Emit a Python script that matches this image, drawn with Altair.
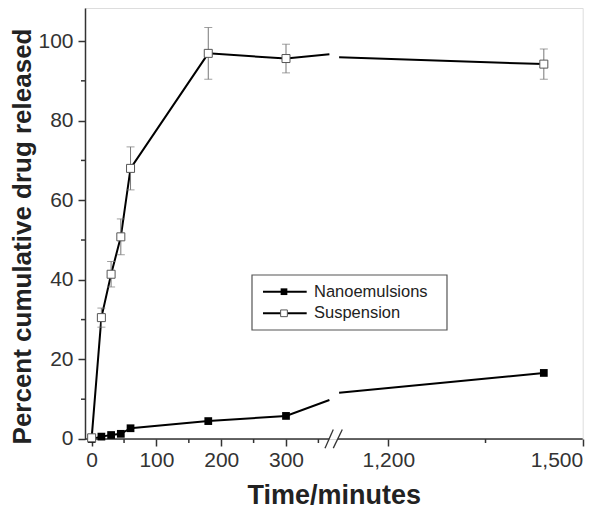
import altair as alt
import pandas as pd

# ---- data ----
time_min = [0, 15, 30, 45, 60, 180, 300, 1440]
suspension = [0.3, 30.5, 41.4, 50.8, 68.0, 96.9, 95.6, 94.2]
suspension_err = [0, 2.4, 3.2, 4.5, 5.4, 6.5, 3.6, 3.8]
nanoemulsions = [0, 0.6, 1.0, 1.3, 2.7, 4.5, 5.8, 16.6]

# where the drawn lines stop / restart at the axis break
edge_times = [367, 1124]
suspension_edge = [96.7, 95.9]
nano_edge = [9.8, 11.6]

series_names = ["Nanoemulsions", "Suspension"]
x_tick_minutes = [0, 100, 200, 300, 1200, 1500]
x_minor_minutes = [50, 150, 250, 350, 1350]
y_ticks = [0, 20, 40, 60, 80, 100]
y_minor = [10, 30, 50, 70, 90]

# ---- broken axis mapping ----
BREAK_LO = 372        # last minute shown on left part
AXIS_OFFSET = 742     # minutes removed by the break
GAP = [366.4, 380.3]  # display units of the axis-line gap
X_DOMAIN = [-10.3, 758]
Y_DOMAIN = [0, 108.3]


def disp(t):
    return t if t <= BREAK_LO else t - AXIS_OFFSET


FONT = "Liberation Sans, Arial, sans-serif"
W, H = 497.7, 431

rows = []
for name, vals, edges in [("Suspension", suspension, suspension_edge),
                          ("Nanoemulsions", nanoemulsions, nano_edge)]:
    for t, v in zip(time_min, vals):
        seg = "L" if t <= BREAK_LO else "R"
        rows.append({"series": name, "key": name + seg, "x": disp(t), "v": v, "o": t})
    rows.append({"series": name, "key": name + "L", "x": disp(edge_times[0]), "v": edges[0], "o": edge_times[0]})
    rows.append({"series": name, "key": name + "R", "x": disp(edge_times[1]), "v": edges[1], "o": edge_times[1]})
lines_df = pd.DataFrame(rows)

pts_df = pd.DataFrame({
    "x": [disp(t) for t in time_min],
    "susp": suspension,
    "lo": [s - e for s, e in zip(suspension, suspension_err)],
    "hi": [s + e for s, e in zip(suspension, suspension_err)],
    "err": suspension_err,
    "nano": nanoemulsions,
})
err_df = pts_df[pts_df["err"] > 0]

xs = alt.Scale(domain=X_DOMAIN, nice=False, zero=False)
ys = alt.Scale(domain=Y_DOMAIN, nice=False, zero=False)

x_axis = alt.Axis(
    values=[disp(t) for t in x_tick_minutes],
    labelExpr=f"datum.value > 400 ? format(datum.value + {AXIS_OFFSET}, ',') : format(datum.value, 'd')",
    title="Time/minutes", domain=False, grid=False,
    tickSize=7, tickWidth=1.5, tickColor="#333",
    labelFont=FONT, labelFontSize=21, labelColor="#333", labelPadding=4,
    titleFont=FONT, titleFontSize=27, titleFontWeight="bold", titleColor="#222", titlePadding=12,
)
y_axis = alt.Axis(
    values=y_ticks, title="Percent cumulative drug released", grid=False,
    domainColor="#333", domainWidth=1.5,
    tickSize=7, tickWidth=1.5, tickColor="#333",
    labelFont=FONT, labelFontSize=21, labelColor="#333", labelPadding=5,
    titleFont=FONT, titleFontSize=26, titleFontWeight="bold", titleColor="#222",
    titleBaseline="top", titleX=-75, titleY=228, titleAngle=270,
)

base_lines = alt.Chart(lines_df).mark_line(color="black", strokeWidth=2).encode(
    x=alt.X("x:Q", scale=xs, axis=x_axis),
    y=alt.Y("v:Q", scale=ys, axis=y_axis),
    detail="key:N",
    order="o:Q",
)

err_rule = alt.Chart(err_df).mark_rule(color="#777", strokeWidth=1).encode(
    x=alt.X("x:Q", scale=xs), y=alt.Y("lo:Q", scale=ys), y2="hi:Q")
err_cap_hi = alt.Chart(err_df).mark_tick(orient="horizontal", size=8, thickness=1, color="#777").encode(
    x=alt.X("x:Q", scale=xs), y=alt.Y("hi:Q", scale=ys))
err_cap_lo = alt.Chart(err_df).mark_tick(orient="horizontal", size=8, thickness=1, color="#777").encode(
    x=alt.X("x:Q", scale=xs), y=alt.Y("lo:Q", scale=ys))

nano_pts = alt.Chart(pts_df).mark_point(shape="square", size=60, filled=True, color="black", opacity=1).encode(
    x=alt.X("x:Q", scale=xs), y=alt.Y("nano:Q", scale=ys))
susp_pts = alt.Chart(pts_df).mark_point(shape="square", size=64, filled=True, fill="white",
                                        stroke="#555", strokeWidth=1, opacity=1).encode(
    x=alt.X("x:Q", scale=xs), y=alt.Y("susp:Q", scale=ys))

# x axis line with a gap, and break slashes
axis_df = pd.DataFrame({"a": [X_DOMAIN[0], GAP[1]], "b": [GAP[0], X_DOMAIN[1]], "y": [0, 0]})
axis_line = alt.Chart(axis_df).mark_rule(color="#333", strokeWidth=1.5).encode(
    x=alt.X("a:Q", scale=xs), x2="b:Q", y=alt.Y("y:Q", scale=ys))
slash_df = pd.DataFrame({"a": [360.2, 373.0], "b": [373.0, 386.9], "y1": [-2.3, -2.3], "y2": [2.4, 2.4]})
slashes = alt.Chart(slash_df).mark_rule(color="#333", strokeWidth=1.3).encode(
    x=alt.X("a:Q", scale=xs), x2="b:Q", y=alt.Y("y1:Q", scale=ys), y2="y2:Q")

# minor ticks
xm_df = pd.DataFrame({"x": [disp(t) for t in x_minor_minutes]})
x_minor_ticks = alt.Chart(xm_df).mark_rule(color="#333", strokeWidth=1.5).encode(
    x=alt.X("x:Q", scale=xs), y=alt.value(H), y2=alt.value(H + 4))
ym_df = pd.DataFrame({"y": y_minor})
y_minor_ticks = alt.Chart(ym_df).mark_rule(color="#333", strokeWidth=1.5).encode(
    y=alt.Y("y:Q", scale=ys), x=alt.value(-4), x2=alt.value(0))

# legend drawn by hand
LX0, LX1, LY0, LY1 = 167, 362, 267, 322
ROW_Y = [283.7, 305.3]
legend_box = alt.Chart(pd.DataFrame({"k": [0]})).mark_rect(fill="white", stroke="#555", strokeWidth=1.2).encode(
    x=alt.value(LX0), x2=alt.value(LX1), y=alt.value(LY0), y2=alt.value(LY1))
legend_layers = [legend_box]
for i, name in enumerate(series_names):
    d = pd.DataFrame({"label": [name]})
    legend_layers.append(alt.Chart(d).mark_rule(color="black", strokeWidth=2).encode(
        x=alt.value(178), x2=alt.value(221.7), y=alt.value(ROW_Y[i])))
    if name == "Nanoemulsions":
        legend_layers.append(alt.Chart(d).mark_point(shape="square", size=45, filled=True, color="black", opacity=1).encode(
            x=alt.value(199), y=alt.value(ROW_Y[i])))
    else:
        legend_layers.append(alt.Chart(d).mark_point(shape="square", size=45, filled=True, fill="white",
                                                      stroke="#555", strokeWidth=1, opacity=1).encode(
            x=alt.value(199), y=alt.value(ROW_Y[i])))
    legend_layers.append(alt.Chart(d).mark_text(align="left", baseline="middle", font=FONT,
                                                fontSize=16.5, color="#222").encode(
        x=alt.value(229), y=alt.value(ROW_Y[i]), text="label:N"))

chart = alt.layer(
    base_lines, axis_line, slashes, x_minor_ticks, y_minor_ticks,
    err_rule, err_cap_hi, err_cap_lo, nano_pts, susp_pts, *legend_layers
).properties(
    width=W, height=H,
    autosize=alt.AutoSizeParams(type="none"),
    padding={"left": 77, "top": 0, "right": 20, "bottom": 75},
).configure_view(strokeWidth=0).configure(background="white")

chart.save("out.html", embed_options={"renderer": "svg", "actions": False})
